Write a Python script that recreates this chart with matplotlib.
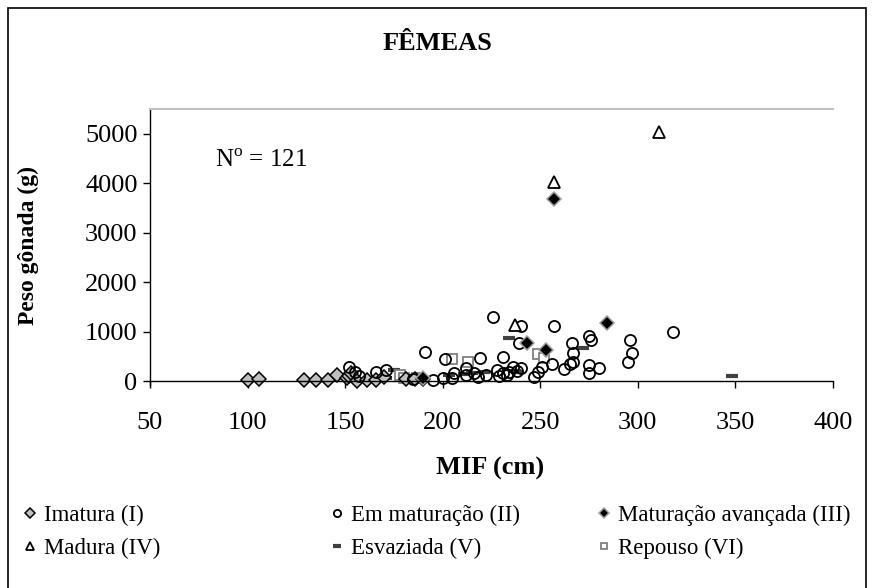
import matplotlib
matplotlib.use('Agg')
import matplotlib.pyplot as plt
from matplotlib.patches import Rectangle

plt.rcParams['font.family'] = ['Liberation Serif', 'DejaVu Serif']
plt.rcParams['mathtext.fontset'] = 'custom'
plt.rcParams['mathtext.rm'] = 'Liberation Serif'

# Dados: MIF (cm) x Peso gônada (g), por estádio
imatura_x = [100, 106, 129, 135, 141, 146, 151, 152, 153, 156, 161, 166, 170, 181, 186, 190]
imatura_y = [30, 50, 20, 30, 20, 130, 60, 100, 170, 10, 20, 30, 80, 40, 50, 40]

em_mat_x = [152, 155, 157, 166, 171, 185, 191, 195, 201, 200, 205, 206, 212, 212, 216, 218,
            219, 222, 226, 228, 229, 231, 231, 233, 234, 236, 238, 240, 239, 240, 247, 249,
            251, 256, 257, 262, 265, 267, 267, 266, 275, 276, 275, 275, 280, 296, 297, 295, 318]
em_mat_y = [280, 180, 100, 180, 220, 40, 590, 30, 440, 60, 60, 160, 260, 120, 160, 80,
            460, 120, 1290, 220, 100, 490, 160, 120, 180, 280, 200, 260, 770, 1110, 80, 180,
            280, 340, 1110, 240, 340, 390, 570, 770, 910, 830, 320, 160, 270, 830, 570, 380, 990]

mat_av_x = [190, 243, 253, 257, 284]
mat_av_y = [60, 770, 630, 3680, 1170]

madura_x = [237, 257, 311]
madura_y = [1130, 4020, 5030]

esvaziada_x = [171, 175, 187, 203, 211, 215, 221, 234, 237, 238, 272, 348]
esvaziada_y = [60, 230, 60, 120, 140, 160, 180, 870, 200, 180, 670, 110]

repouso_x = [178, 180, 187, 205, 213, 249, 252]
repouso_y = [120, 60, 60, 440, 390, 540, 460]

fig = plt.figure(figsize=(8.74, 5.88), dpi=100)
ax = fig.add_axes([150/874, 1 - 385/588, (833-150)/874, (385-109)/588])

ax.plot(esvaziada_x, esvaziada_y, linestyle='none', marker='_', markersize=9,
        markeredgewidth=3, color='#404040', clip_on=False, label='Esvaziada (V)')
ax.plot(repouso_x, repouso_y, linestyle='none', marker='s', markersize=7.5,
        markerfacecolor='white', markeredgecolor='#808080', markeredgewidth=1.3,
        clip_on=False, label='Repouso (VI)')
ax.plot(imatura_x, imatura_y, linestyle='none', marker='D', markersize=7.5,
        markerfacecolor='#c0c0c0', markeredgecolor='black', markeredgewidth=1.1,
        clip_on=False, label='Imatura (I)')
ax.plot(em_mat_x, em_mat_y, linestyle='none', marker='o', markersize=8,
        markerfacecolor='none', markeredgecolor='black', markeredgewidth=1.3,
        clip_on=False, label='Em maturação (II)')
ax.plot(mat_av_x, mat_av_y, linestyle='none', marker='D', markersize=7.5,
        markerfacecolor='black', markeredgecolor='#a0a0a0', markeredgewidth=1.1,
        clip_on=False, label='Maturação avançada (III)')
ax.plot(madura_x, madura_y, linestyle='none', marker='^', markersize=8,
        markerfacecolor='white', markeredgecolor='black', markeredgewidth=1.3,
        clip_on=False, label='Madura (IV)')

ax.set_xlim(50, 400)
ax.set_ylim(-80, 5500)
ax.set_xticks([50, 100, 150, 200, 250, 300, 350, 400])
ax.set_yticks([0, 1000, 2000, 3000, 4000, 5000])

ax.spines['bottom'].set_position(('data', 0))
ax.spines['right'].set_visible(False)
ax.spines['top'].set_color('#c0c0c0')
ax.spines['top'].set_linewidth(1.5)
ax.spines['left'].set_linewidth(1)
ax.spines['bottom'].set_linewidth(1)
ax.tick_params(axis='x', direction='out', length=5, width=1, pad=17, labelsize=19)
ax.tick_params(axis='y', direction='out', length=5, width=1, pad=4, labelsize=19)

ax.text(0.095, 0.79, r'N$^{\mathrm{o}}$ = 121', transform=ax.transAxes, fontsize=18)

fig.text(437/874, 1 - 43/588, 'FÊMEAS', ha='center', va='center', fontsize=19, fontweight='bold')
fig.text(490/874, 1 - 468/588, 'MIF (cm)', ha='center', va='center', fontsize=19, fontweight='bold')
fig.text(28/874, 1 - 245/588, 'Peso gônada (g)', ha='center', va='center', rotation=90,
         fontsize=17, fontweight='bold')

# legenda em três colunas, como no original
h, l = ax.get_legend_handles_labels()
hd = dict(zip(l, h))
cols = [(['Imatura (I)', 'Madura (IV)'], 23),
        (['Em maturação (II)', 'Esvaziada (V)'], 330),
        (['Maturação avançada (III)', 'Repouso (VI)'], 597)]
for names, x0 in cols:
    fig.legend([hd[n] for n in names], names, loc='upper left',
               bbox_to_anchor=(x0/874, 1 - 505/588), frameon=False, fontsize=16.5,
               markerscale=0.65, handlelength=0.6, handletextpad=0.3, labelspacing=0.5,
               borderpad=0, borderaxespad=0)

fig.patches.append(Rectangle((8/874, -0.02), (866-8)/874, 1 - 8/588 + 0.02,
                             transform=fig.transFigure, fill=False, edgecolor='black',
                             linewidth=1.2))

plt.savefig('out.png', dpi=100)
